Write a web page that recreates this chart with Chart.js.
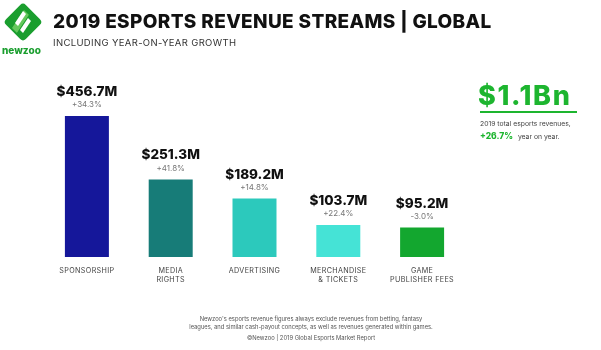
<!DOCTYPE html>
<html>
<head>
<meta charset="utf-8">
<script src="https://cdn.jsdelivr.net/npm/chart.js@4"></script>
<style>
  html, body { margin: 0; padding: 0; background: #fff; }
  body { width: 601px; height: 350px; position: relative; overflow: hidden; font-family: Inter, "Noto Sans", sans-serif; }
  #chartBox { position: absolute; left: 0; top: 0; width: 601px; height: 350px; }
  .abs { position: absolute; white-space: nowrap; }
  #title { left: 53px; top: 10px; font-size: 19px; font-weight: 800; color: #111; letter-spacing: 0.35px; }
  #subtitle { left: 53px; top: 37px; font-size: 9.5px; color: #333; letter-spacing: 0.35px; }
  #brand { left: 2px; top: 44px; font-size: 10px; font-weight: 800; color: #1a9e2e; }
  #total { left: 478px; top: 79px; font-size: 27px; font-weight: 800; color: #1db52f; letter-spacing: 1.6px; }
  #totalRule { left: 480px; top: 111px; width: 97px; height: 2px; background: #1db52f; }
  #totalNote1 { left: 480px; top: 119px; font-size: 6.8px; color: #444; }
  #totalNote2 { left: 480px; top: 131px; font-size: 6.8px; color: #444; }
  #totalNote2 b { color: #1db52f; font-weight: 800; font-size: 8.5px; margin-right: 3px; }
  .foot { left: 0; width: 622px; text-align: center; font-size: 5.8px; color: #555; }
</style>
</head>
<body>
<div id="chartBox"><canvas id="revenueChart"></canvas></div>

<svg class="abs" style="left:2px;top:1px" width="42" height="42" viewBox="0 0 42 42">
  <rect x="7" y="7" width="28" height="28" rx="4" transform="rotate(45 21 21)" fill="#1a9e2e"/>
  <path d="M10 27 L22 9 L27 14 L15 32 Z" fill="#64c85c"/>
  <path d="M15 32 L27 14 L32 19 L20 37 Z" fill="#1a9e2e"/>
  <path d="M13 22 L21 10 L24 13 L16 25 Z" fill="#fff"/>
  <path d="M18 29 L26 17 L29 20 L21 32 Z" fill="#fff"/>
</svg>
<div class="abs" id="brand">newzoo</div>

<div class="abs" id="title">2019 ESPORTS REVENUE STREAMS | GLOBAL</div>
<div class="abs" id="subtitle">INCLUDING YEAR-ON-YEAR GROWTH</div>

<div class="abs" id="total">$1.1Bn</div>
<div class="abs" id="totalRule"></div>
<div class="abs" id="totalNote1">2019 total esports revenues,</div>
<div class="abs" id="totalNote2"><b>+26.7%</b> year on year.</div>

<div class="abs foot" style="top:315px">Newzoo's esports revenue figures always exclude revenues from betting, fantasy</div>
<div class="abs foot" style="top:323px">leagues, and similar cash-payout concepts, as well as revenues generated within games.</div>
<div class="abs foot" style="top:334px">©Newzoo | 2019 Global Esports Market Report</div>

<script>
// 2019 esports revenue streams, values in $M
const categories = [
    ['SPONSORSHIP'],
    ['MEDIA', 'RIGHTS'],
    ['ADVERTISING'],
    ['MERCHANDISE', '& TICKETS'],
    ['GAME', 'PUBLISHER FEES']
];
const revenues = [456.7, 251.3, 189.2, 103.7, 95.2];
const growth = ['+34.3%', '+41.8%', '+14.8%', '+22.4%', '-3.0%'];
const barColors = ['#15179a', '#177c78', '#2cc9bc', '#45e3d6', '#13a72f'];

// Draws the value + growth above each bar and the category names below
const barLabelsPlugin = {
    id: 'barLabels',
    afterDatasetsDraw(chart) {
        const ctx = chart.ctx;
        const meta = chart.getDatasetMeta(0);
        const bottom = chart.scales.y.getPixelForValue(0);
        ctx.save();
        ctx.textAlign = 'center';
        ctx.textBaseline = 'middle';
        meta.data.forEach((bar, i) => {
            ctx.fillStyle = '#111';
            ctx.font = '800 13.5px Inter, sans-serif';
            ctx.fillText('$' + revenues[i].toFixed(1) + 'M', bar.x, bar.y - 24);
            ctx.fillStyle = '#777';
            ctx.font = '8px Inter, sans-serif';
            ctx.fillText(growth[i], bar.x, bar.y - 11);
            ctx.fillStyle = '#444';
            ctx.font = '7.2px Inter, sans-serif';
            ctx.letterSpacing = '0.35px';
            categories[i].forEach((line, j) => {
                ctx.fillText(line, bar.x, bottom + 13.5 + j * 9);
            });
            ctx.letterSpacing = '0px';
        });
        ctx.restore();
    }
};

const ctx = document.getElementById('revenueChart').getContext('2d');
new Chart(ctx, {
    type: 'bar',
    data: {
        labels: categories.map(c => c.join(' ')),
        datasets: [{
            data: revenues,
            backgroundColor: barColors,
            borderWidth: 0,
            barPercentage: 0.525,
            categoryPercentage: 1
        }]
    },
    options: {
        responsive: true,
        maintainAspectRatio: false,
        animation: false,
        layout: { padding: { left: 45, right: 137, top: 102.6, bottom: 93 } },
        plugins: {
            legend: { display: false },
            tooltip: { enabled: false }
        },
        scales: {
            x: { display: false },
            y: { display: false, min: 0, max: 500 }
        }
    },
    plugins: [barLabelsPlugin]
});
</script>
</body>
</html>
